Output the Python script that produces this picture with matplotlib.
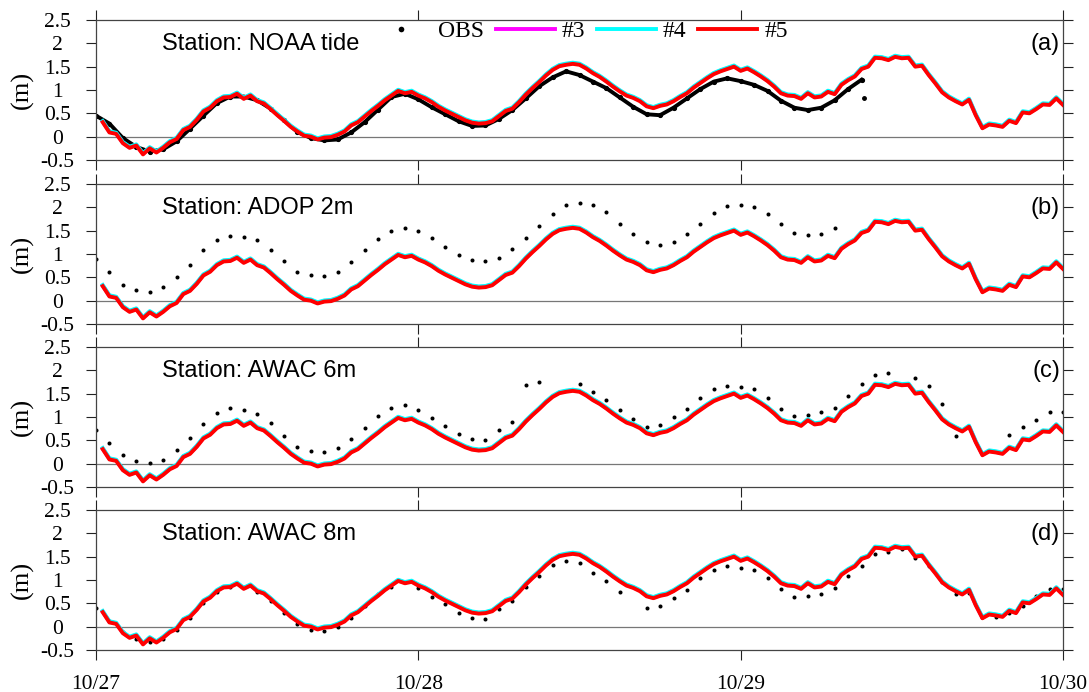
import numpy as np
import matplotlib
matplotlib.use("Agg")
import matplotlib.pyplot as plt
from matplotlib import transforms

# model water level (m), every half hour from 10/27 00:30 to 10/30 00:00
model_h5 = [
    0.31, 0.09, 0.06, -0.14, -0.24, -0.19, -0.38, -0.25, -0.34, -0.24, -0.12, -0.05,
    0.14, 0.21, 0.36, 0.54, 0.62, 0.76, 0.84, 0.85, 0.92, 0.81, 0.88, 0.76,
    0.71, 0.59, 0.46, 0.34, 0.21, 0.11, 0.02, 0.00, -0.06, -0.02, -0.01, 0.04,
    0.11, 0.24, 0.31, 0.43, 0.55, 0.66, 0.78, 0.88, 0.98, 0.93, 0.96, 0.88,
    0.82, 0.74, 0.64, 0.56, 0.49, 0.42, 0.35, 0.30, 0.28, 0.29, 0.33, 0.44,
    0.55, 0.60, 0.74, 0.90, 1.04, 1.17, 1.31, 1.43, 1.51, 1.54, 1.56, 1.54,
    1.46, 1.36, 1.28, 1.18, 1.07, 0.97, 0.88, 0.83, 0.76, 0.65, 0.61, 0.66,
    0.69, 0.76, 0.85, 0.93, 1.05, 1.15, 1.25, 1.34, 1.40, 1.45, 1.50,
    1.41, 1.46, 1.38, 1.29, 1.19, 1.07, 0.93, 0.88, 0.87, 0.81, 0.93, 0.84,
    0.86, 0.96, 0.91, 1.11, 1.21, 1.29, 1.45, 1.50, 1.69, 1.68, 1.64, 1.71,
    1.68, 1.69, 1.50, 1.52, 1.32, 1.14, 0.95, 0.84, 0.76, 0.69, 0.79, 0.46,
    0.18, 0.26, 0.24, 0.21, 0.34, 0.29, 0.52, 0.50, 0.59, 0.69, 0.68, 0.82, 0.68,
]
# runs #3 and #4 are indistinguishable from #5 at this scale
model_h3 = model_h5
model_h4 = model_h5

# hourly observations from 10/27 00:00
obs_noaa = [
    0.45, 0.28, -0.03, -0.22, -0.32, -0.27, -0.10, 0.17, 0.45, 0.72,
    0.86, 0.86, 0.78, 0.60, 0.35, 0.10, -0.03, -0.08, -0.06, 0.09,
    0.31, 0.58, 0.85, 0.92, 0.80, 0.63, 0.48, 0.33, 0.23, 0.24,
    0.38, 0.57, 0.82, 1.08, 1.27, 1.40, 1.32, 1.18, 1.04, 0.84,
    0.64, 0.48, 0.46, 0.62, 0.82, 1.02, 1.18, 1.25, 1.19, 1.11,
    0.98, 0.77, 0.62, 0.57, 0.62, 0.78, 1.02, 1.22,
]
obs_noaa_last_hour = 57.2
obs_noaa_last = 0.82

obs_adop2 = [
    0.885, 0.61, 0.345, 0.23, 0.19, 0.29, 0.50, 0.76, 1.08, 1.29,
    1.39, 1.37, 1.29, 1.09, 0.84, 0.62, 0.54, 0.52, 0.62, 0.83,
    1.09, 1.33, 1.50, 1.55, 1.50, 1.35, 1.15, 0.98, 0.88, 0.85,
    0.92, 1.10, 1.35, 1.60, 1.85, 2.05, 2.10, 2.05, 1.90, 1.65,
    1.42, 1.25, 1.20, 1.25, 1.42, 1.65, 1.88, 2.02, 2.05, 2.00,
    1.85, 1.65, 1.45, 1.40, 1.42, 1.55,
]

nan = np.nan
obs_awac6 = [
    0.72, 0.45, 0.18, 0.06, 0.01, 0.08, 0.29, 0.56, 0.86, 1.09,
    1.19, 1.16, 1.07, 0.87, 0.60, 0.36, 0.27, 0.24, 0.33, 0.52,
    0.76, 1.03, 1.20, 1.25, 1.14, 0.97, 0.80, 0.63, 0.52, 0.51,
    0.73, 0.90, 1.68, 1.76, nan, nan, 1.71, 1.54, 1.36, 1.14,
    0.95, 0.79, 0.83, 1.01, 1.17, 1.41, 1.59, 1.66, 1.64, 1.59,
    1.40, 1.17, 1.03, 1.04, 1.10, 1.20, 1.44, 1.70, 1.91, 1.94,
    nan, 1.84, 1.66, 1.27, 0.60, nan, nan, nan, 0.61, 0.79,
    0.94, 1.11, 1.11,
]

obs_awac8 = [
    0.39, 0.12, -0.12, -0.26, -0.32, -0.26, -0.08, 0.18, 0.50, 0.74,
    0.85, 0.84, 0.74, 0.55, 0.29, 0.05, -0.07, -0.09, 0.00, 0.19,
    0.45, 0.69, 0.86, 0.95, 0.82, 0.64, 0.48, 0.30, 0.18, 0.17,
    0.37, 0.54, 0.84, 1.09, 1.32, 1.41, 1.37, 1.16, 0.98, 0.75,
    nan, 0.41, 0.45, 0.62, 0.79, 1.04, 1.21, 1.29, 1.26, 1.21,
    1.04, 0.80, 0.64, 0.66, 0.71, 0.82, 1.09, 1.31, 1.55, 1.59,
    1.66, 1.48, 1.30, 0.95, 0.71, 0.72, 0.20, 0.21, 0.30, 0.45,
    0.66, 0.81, 0.81,
]

stations = ["Station: NOAA tide", "Station: ADOP 2m", "Station: AWAC 6m", "Station: AWAC 8m"]
panel_tags = ["(a)", "(b)", "(c)", "(d)"]
obs_sets = [obs_noaa, obs_adop2, obs_awac6, obs_awac8]
date_labels = ["10/27", "10/28", "10/29", "10/30"]
ytick_vals = [-0.5, 0, 0.5, 1, 1.5, 2, 2.5]
ytick_text = ["-0.5", "0", "0.5", "1", "1.5", "2", "2.5"]

serif = "Liberation Serif"
sans = "Liberation Sans"

t_model = 0.5 * np.arange(1, len(model_h5) + 1) / 24.0

fig = plt.figure(figsize=(10.89, 6.92), dpi=100)
W, H = 1089.0, 692.0
tops = [20, 184, 347, 510]
axes = []
for top in tops:
    axes.append(fig.add_axes([96 / W, 1 - (top + 140) / H, 967 / W, 140 / H]))

for i, ax in enumerate(axes):
    obs = obs_sets[i]
    t_obs = np.arange(len(obs)) / 24.0
    if i == 0:
        ax.plot(t_obs, obs, color="k", lw=2.8, zorder=2)
        ax.plot(t_obs, obs, ".", color="k", ms=5.5, zorder=2, label="OBS")
        ax.plot([obs_noaa_last_hour / 24.0], [obs_noaa_last], ".", color="k", ms=5, zorder=2)
    else:
        ax.plot(t_obs, obs, "o", color="k", ms=2.9, mew=0, zorder=2, label="OBS")

    up1 = transforms.offset_copy(ax.transData, fig=fig, x=0, y=1.2, units="dots")
    up2 = transforms.offset_copy(ax.transData, fig=fig, x=0, y=0.6, units="dots")
    ax.plot(t_model, model_h3, color="#ff00ff", lw=2.8, transform=up2, zorder=3, label="#3")
    ax.plot(t_model, model_h4, color="#00ffff", lw=2.8, transform=up1, zorder=4, label="#4")
    ax.plot(t_model, model_h5, color="#ff0000", lw=2.8, zorder=5, label="#5")

    ax.axhline(0, color="#777777", lw=0.9, zorder=1)

    ax.set_xlim(0, 3)
    ax.set_ylim(-0.5, 2.5)
    ax.set_xticks([0, 1, 2, 3])
    ax.set_yticks(ytick_vals)
    ax.set_yticklabels(ytick_text, fontfamily=serif, fontsize=15.5)
    for lbl in ax.get_yticklabels():
        lbl.set_horizontalalignment("center")
    if i == 3:
        ax.set_xticklabels(date_labels, fontfamily=serif, fontsize=15.5)
    else:
        ax.set_xticklabels([])
    ax.tick_params(direction="out", length=7, width=0.8, color="#222222",
                   top=True, right=True, labelright=False, labeltop=False)
    ax.tick_params(axis="y", pad=21)
    ax.tick_params(axis="x", pad=11)
    for sp in ax.spines.values():
        sp.set_color("#444444")
        sp.set_linewidth(0.9)

    ax.set_ylabel("(m)", fontfamily=serif, fontsize=19)
    ax.yaxis.set_label_coords(-0.064, 0.5)

    ax.text(0.068, 0.83, stations[i], transform=ax.transAxes, ha="left", va="center",
            fontfamily=sans, fontsize=17)
    ax.text(0.997, 0.83, panel_tags[i], transform=ax.transAxes, ha="right", va="center",
            fontfamily=sans, fontsize=17)

handles, labels = axes[1].get_legend_handles_labels()
leg = axes[0].legend(handles, labels, loc="upper left", bbox_to_anchor=(0.285, 0.995),
                     ncol=4, frameon=False, prop={"family": serif, "size": 17},
                     handlelength=2.5, handletextpad=0.3, columnspacing=0.5,
                     borderpad=0, borderaxespad=0, markerscale=1.4)

fig.savefig("out.png", dpi=100)
